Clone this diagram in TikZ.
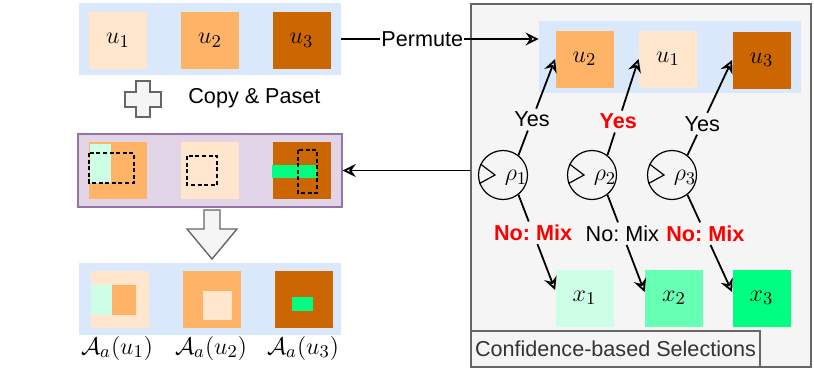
\documentclass[tikz,border=0pt]{standalone}
\usepackage{fontspec}
\setmainfont{Liberation Sans}
\usetikzlibrary{arrows.meta,calc}
\frenchspacing
\definecolor{bluebg}{HTML}{DAE8FC}
\definecolor{peach}{HTML}{FFE6CC}
\definecolor{orng}{HTML}{FFB366}
\definecolor{brwn}{HTML}{CC6600}
\definecolor{purplebg}{HTML}{E1D5E7}
\definecolor{purpleln}{HTML}{9673A6}
\definecolor{graybg}{HTML}{F5F5F5}
\definecolor{grayln}{HTML}{666666}
\definecolor{txtgray}{HTML}{333333}
\definecolor{gA}{HTML}{CCFFE6}
\definecolor{gB}{HTML}{66FFB3}
\definecolor{gC}{HTML}{00FF80}
\definecolor{redlbl}{HTML}{FF0000}
\begin{document}
\begin{tikzpicture}[x=0.5pt,y=-0.5pt,
  panel/.style={rectangle,inner sep=0pt,draw=none},
  sq/.style={rectangle,inner sep=0pt,minimum width=29pt,minimum height=28.5pt,font=\fontsize{13}{15}\selectfont},
  dsh/.style={draw=black,line width=0.6pt,dash pattern=on 2pt off 1.3pt},
  ln/.style={line width=0.9pt},
  arr/.style={line width=0.9pt,-{Stealth[open,length=6.5pt,width=6.5pt,inset=2.2pt]}},
  lbl/.style={font=\fontsize{10.8}{12}\selectfont\frenchspacing,inner sep=1.5pt},
  rlbl/.style={font=\fontsize{10.8}{12}\selectfont\bfseries\frenchspacing,text=redlbl,inner sep=1.5pt},
  rho/.style={circle,draw,line width=0.6pt,minimum size=24.5pt,inner sep=0pt},
  mlbl/.style={font=\fontsize{12.5}{14}\selectfont,inner sep=0pt}]
\useasboundingbox (0,0) rectangle (814,370);

% ---------- left column ----------
\node[panel,fill=bluebg,minimum width=131pt,minimum height=36pt] (top) at (210,39) {};
\node[sq,fill=peach] (t1) at (118,40.5) {$u_1$};
\node[sq,fill=orng] (t2) at (210,40.5) {$u_2$};
\node[sq,fill=brwn] (t3) at (301.5,40.5) {$u_3$};

% plus shape
\draw[fill=graybg,draw=grayln,line width=0.7pt]
  (136,81) -- (150,81) -- (150,92) -- (161,92) -- (161,107) -- (150,107) -- (150,117)
  -- (136,117) -- (136,107) -- (125,107) -- (125,92) -- (136,92) -- cycle;
\node[lbl,anchor=west] (cp) at (185,98) {Copy \& Paset};

% purple box
\node[panel,fill=purplebg,draw=purpleln,line width=0.7pt,minimum width=132pt,minimum height=36.5pt] (mid) at (210,170.5) {};
\node[sq,fill=orng] (m1) at (118,170.5) {};
\fill[gA] (90,144) rectangle (111,183);
\draw[dsh] (89,153) rectangle (134,183);
\node[sq,fill=peach] (m2) at (210,170.5) {};
\draw[dsh] (187,156) rectangle (217,185);
\node[sq,fill=brwn] (m3) at (301.5,170.5) {};
\fill[gC] (272,165) rectangle (317,178);
\draw[dsh] (298,150) rectangle (317,193);

% down arrow
\draw[fill=graybg,draw=grayln,line width=0.7pt]
  (204,210) -- (220,210) -- (220,229) -- (237,229) -- (212,259) -- (187,229) -- (204,229) -- cycle;

% bottom box
\node[panel,fill=bluebg,minimum width=131pt,minimum height=36pt] (bot) at (210,299) {};
\node[sq,fill=peach] (a1) at (120,299.5) {};
\fill[gA] (91,285) rectangle (112,315);
\fill[orng] (112,285) rectangle (136,315);
\node[sq,fill=orng] (a2) at (212,299.5) {};
\fill[peach] (203,291) rectangle (232,320);
\node[sq,fill=brwn] (a3) at (303.5,299.5) {};
\fill[gC] (292,297) rectangle (313,311);
\node[mlbl] (la1) at (117,348) {$\mathcal{A}_a(u_1)$};
\node[mlbl] (la2) at (211,348) {$\mathcal{A}_a(u_2)$};
\node[mlbl] (la3) at (303,348) {$\mathcal{A}_a(u_3)$};

% ---------- right panel ----------
\node[panel,fill=graybg,draw=grayln,line width=0.7pt,minimum width=170pt,minimum height=181.5pt] (gray) at (641,185.5) {};
\node[panel,fill=graybg,draw=grayln,line width=0.7pt,minimum width=144.5pt,minimum height=18pt,
  font=\fontsize{10.8}{12}\selectfont,text=txtgray] (conf) at (615.5,349) {Confidence-based Selections};
\node[panel,fill=bluebg,minimum width=131pt,minimum height=36pt] (inner) at (670,57) {};
\node[sq,fill=orng] (r2) at (584.5,59) {$u_2$};
\node[sq,fill=peach] (r1) at (668,59) {$u_1$};
\node[sq,fill=brwn] (r3) at (761.5,60) {$u_3$};

\node[sq,fill=gA] (x1) at (584.5,298) {$x_1$};
\node[sq,fill=gB] (x2) at (674,298) {$x_2$};
\node[sq,fill=gC] (x3) at (761.5,298) {$x_3$};

\foreach \i/\cx in {1/503,2/592,3/672}{
  \node[rho] (p\i) at (\cx,175) {};
  \draw[line width=0.6pt] (p\i.154) -- ($(p\i.center)+(-8,0)$) -- (p\i.200);
  \node[font=\fontsize{12.5}{14}\selectfont,inner sep=0pt] (rl\i) at ($(p\i.center)+(13,3)$) {$\rho_{\i}$};
}

% Yes arrows (line broken at the label)
\node[lbl] (y1) at ($(p1.52)!0.37!(r2.west)$) {Yes};
\node[rlbl] (y2) at ($(p2.52)!0.35!(r1.west)$) {Yes};
\node[lbl] (y3) at ($(p3.52)!0.33!(r3.west)$) {Yes};
\draw[ln] (p1.52) -- (y1);  \draw[arr] (y1) -- (r2.west);
\draw[ln] (p2.52) -- (y2);  \draw[arr] (y2) -- (r1.west);
\draw[ln] (p3.52) -- (y3);  \draw[arr] (y3) -- (r3.west);

% No: Mix arrows
\coordinate (e1) at ([yshift=4pt]x1.west);
\coordinate (e2) at ([yshift=3pt]x2.west);
\coordinate (e3) at ([yshift=3pt]x3.west);
\node[rlbl] (n1) at ($(p1.-52)!0.4!(e1)$) {No: Mix};
\node[lbl] (n2) at ($(p2.-52)!0.4!(e2)$) {No: Mix};
\node[rlbl] (n3) at ($(p3.-52)!0.4!(e3)$) {No: Mix};
\draw[ln] (p1.-52) -- (n1);  \draw[arr] (n1) -- (e1);
\draw[ln] (p2.-52) -- (n2);  \draw[arr] (n2) -- (e2);
\draw[ln] (p3.-52) -- (n3);  \draw[arr] (n3) -- (e3);

% connectors between panels
\coordinate (pend) at (top.east -| inner.west);
\node[lbl,inner sep=0.5pt] (perm) at ($(top.east)!0.41!(pend)$) {Permute};
\draw[ln] (top.east) -- (perm);
\draw[arr] (perm) -- (pend);
\draw[arr] (mid.east -| gray.west) -- (mid.east);
\end{tikzpicture}
\end{document}
